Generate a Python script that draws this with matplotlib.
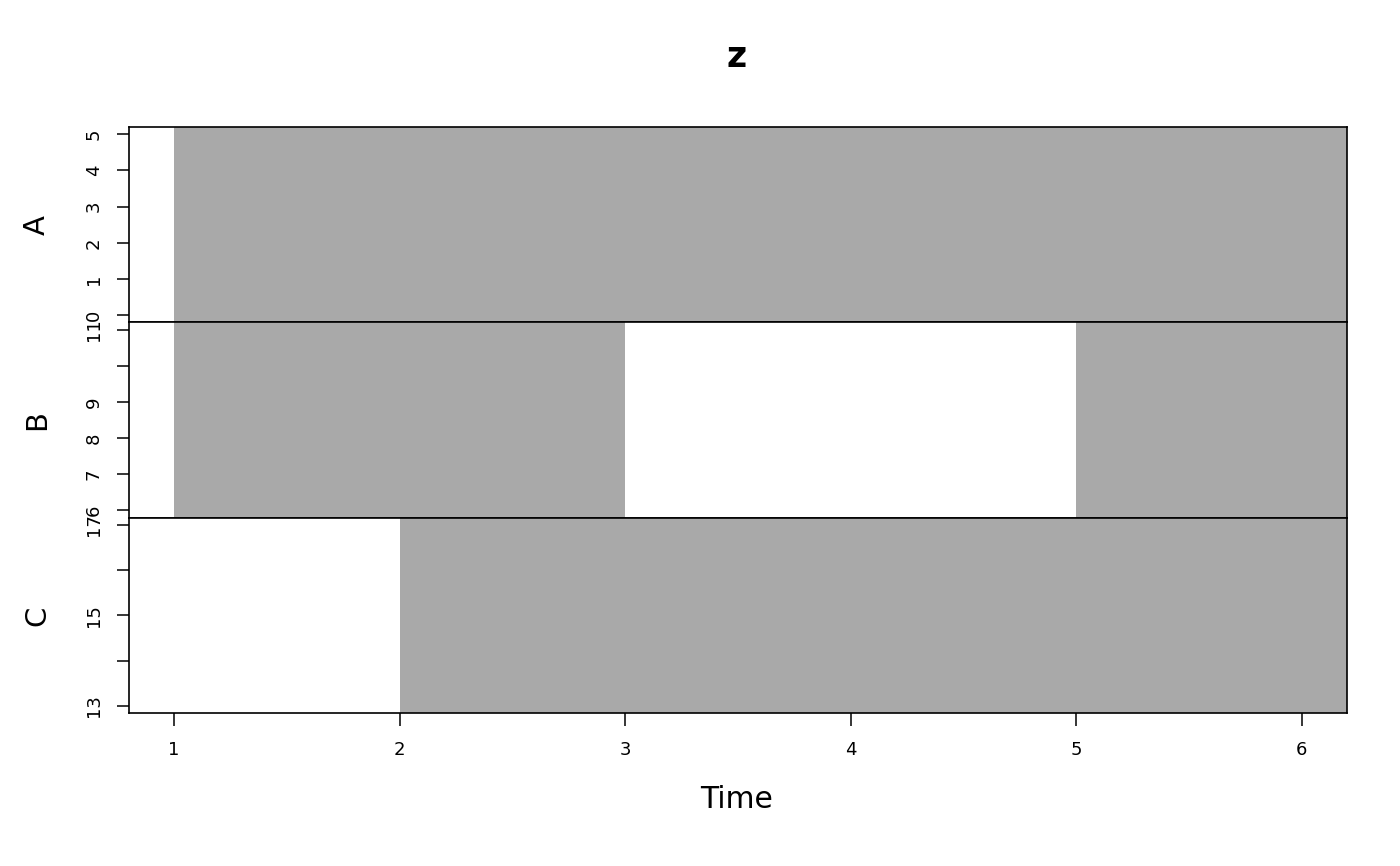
import numpy as np
import matplotlib
matplotlib.use("Agg")
import matplotlib.pyplot as plt

time = np.array([1, 2, 3, 4, 5, 6])
series_names = ["A", "B", "C"]
A = np.array([0, 1, 2, 3, 4, 5], dtype=float)
B = np.array([6, 7, np.nan, np.nan, 10, 11])
C = np.array([np.nan, 13, 14, 15, 16, 17])
series = [A, B, C]

yticks = [[0, 1, 2, 3, 4, 5], [6, 7, 8, 9, 10, 11], [13, 14, 15, 16, 17]]
yticklabels = [["0", "1", "2", "3", "4", "5"],
               ["6", "7", "8", "9", "", "11"],
               ["13", "", "15", "", "17"]]

shade = "#a9a9a9"

fig = plt.figure(figsize=(14, 8.66), dpi=100)
left, right, top, bottom = 129 / 1400, 1347 / 1400, 1 - 127 / 866, 1 - 713 / 866
h = (top - bottom) / 3

pad_x = 0.04 * (time[-1] - time[0])
xlim = (time[0] - pad_x, time[-1] + pad_x)

axes = []
for i, (name, y) in enumerate(zip(series_names, series)):
    ax = fig.add_axes([left, top - (i + 1) * h, right - left, h])
    axes.append(ax)
    # shade blocks where data is present
    ok = ~np.isnan(y)
    edges = np.append(time, xlim[1])
    for j in range(len(time)):
        if ok[j]:
            ax.axvspan(edges[j], edges[j + 1], color=shade, lw=0)
    lo, hi = np.nanmin(y), np.nanmax(y)
    pad = 0.04 * (hi - lo)
    ax.set_ylim(lo - pad, hi + pad)
    ax.set_xlim(*xlim)
    ax.set_yticks(yticks[i])
    ax.set_yticklabels(yticklabels[i], rotation=90, va="center")
    ax.tick_params(axis="y", length=9, width=1.1, pad=10, labelsize=13)
    ax.tick_params(axis="x", length=9, width=1.1, pad=11, labelsize=13)
    for s in ax.spines.values():
        s.set_linewidth(1.2)
    fig.text(37 / 1400, top - (i + 0.5) * h, name, rotation=90,
             ha="center", va="center", fontsize=21)
    if i < 2:
        ax.tick_params(axis="x", bottom=False, labelbottom=False)
    else:
        ax.set_xticks(time)

fig.text(737 / 1400, 1 - 57 / 866, "z", ha="center", va="center",
         fontsize=25, fontweight="bold")
fig.text(737 / 1400, 1 - 799 / 866, "Time", ha="center", va="center",
         fontsize=21.5)

fig.savefig("out.png", dpi=100)
